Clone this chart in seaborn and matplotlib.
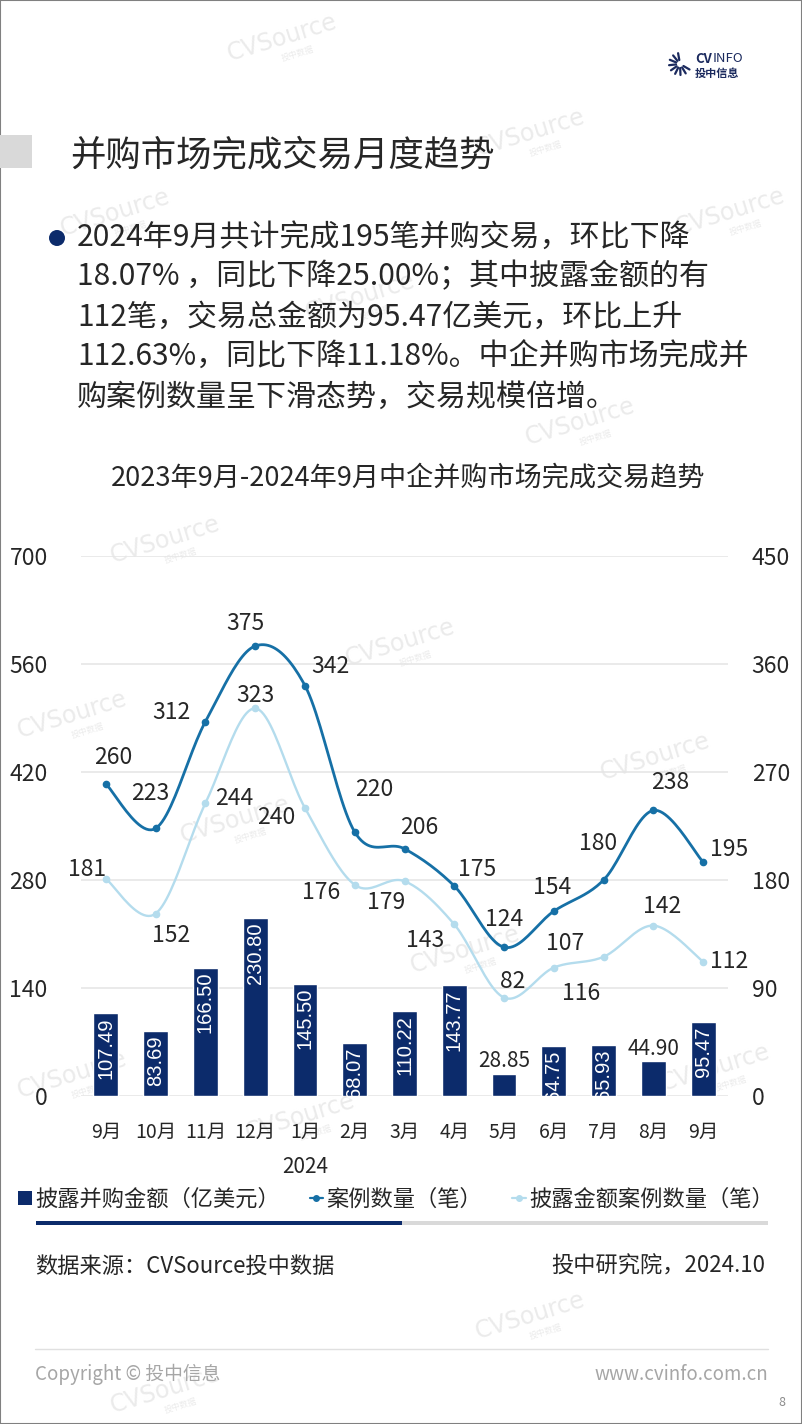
import numpy as np
import pandas as pd
import matplotlib
matplotlib.use("Agg")
import matplotlib.pyplot as plt
from matplotlib.lines import Line2D
from matplotlib.patches import Rectangle, Ellipse, Patch
import seaborn as sns

# Datos del grafico
meses = ['9月', '10月', '11月', '12月', '1月', '2月', '3月', '4月', '5月', '6月', '7月', '8月', '9月']
monto = [107.49, 83.69, 166.50, 230.80, 145.50, 68.07, 110.22, 143.77, 28.85, 64.75, 65.93, 44.90, 95.47]
casos = [260, 223, 312, 375, 342, 220, 206, 175, 124, 154, 180, 238, 195]
casos_monto = [181, 152, 244, 323, 240, 176, 179, 143, 82, 107, 116, 142, 112]
ticks_izq = [0, 140, 280, 420, 560, 700]
ticks_der = [0, 90, 180, 270, 360, 450]

# desplazamientos de las etiquetas (px)
off_casos = [(7, -27), (-5, -35), (-34, -9), (-10, -23), (25, -19), (19, -42), (15, -21),
             (23, -17), (0, -28), (-2, -24), (-6, -36), (17, -28), (26, -13)]
off_monto = [(-19, -9), (15, 22), (29, -5), (0, -13), (-29, 9), (-34, 8), (-18, 21),
             (-29, 16), (9, -16), (11, -24), (-22, 37), (9, -19), (26, 0)]

AZUL_BAR = '#0c2b6b'
AZUL_LIN = '#1670a6'
CELESTE = '#b4dced'
TXT = '#262626'

W, H = 802, 1424


def px(x, y):
    return x / W, 1 - y / H


def suave(xs, ys, n=24):
    # curva tipo Excel (bezier catmull-rom) solo para dibujar la linea
    pts = np.column_stack([xs, ys]).astype(float)
    p = np.vstack([pts[0], pts, pts[-1]])
    t = np.linspace(0, 1, n)[:, None]
    segs = []
    for i in range(1, len(p) - 2):
        p0, p1, p2, p3 = p[i - 1], p[i], p[i + 1], p[i + 2]
        c1 = p1 + (p2 - p0) / 6
        c2 = p2 - (p3 - p1) / 6
        segs.append((1 - t) ** 3 * p1 + 3 * (1 - t) ** 2 * t * c1 + 3 * (1 - t) * t ** 2 * c2 + t ** 3 * p2)
    return np.vstack(segs)


sns.set_theme(style="white")
plt.rcParams['font.family'] = ['Noto Sans CJK SC', 'DejaVu Sans']
plt.rcParams['axes.unicode_minus'] = False

fig = plt.figure(figsize=(W / 100, H / 100), dpi=100)
fig.patch.set_facecolor('white')

# marcas de agua
marcas = [(282, 38), (530, 133), (115, 213), (730, 212), (360, 297), (580, 422), (165, 540),
          (400, 643), (72, 715), (655, 757), (235, 820), (465, 950), (72, 1075),
          (715, 1068), (300, 1117), (530, 1316), (165, 1390)]
for mx, my in marcas:
    fig.text(*px(mx, my), 'CVSource', rotation=17, ha='center', va='center', fontsize=17,
             color='#ebebeb', family='DejaVu Sans', zorder=-5)
    fig.text(*px(mx + 16, my + 16), '投中数据', rotation=17, ha='center', va='center', fontsize=6,
             color='#ebebeb', zorder=-5)

# borde
fig.add_artist(Rectangle((0, 0), 1, 1, transform=fig.transFigure, fill=False,
                         edgecolor='#808080', linewidth=1.5))

# logo
cx, cy = px(680, 64)
for ang in np.linspace(100, 330, 9):
    a = np.deg2rad(ang)
    r1, r2 = 4, 11
    fig.add_artist(Line2D([cx + r1 * np.cos(a) / W, cx + r2 * np.cos(a) / W],
                          [cy + r1 * np.sin(a) / H, cy + r2 * np.sin(a) / H],
                          transform=fig.transFigure, color='#1b2a5e', linewidth=1.6))
fig.text(*px(695, 59), 'CV', fontsize=9.5, fontweight='bold', color='#1b2a5e', va='center')
fig.text(*px(713, 59), 'INFO', fontsize=9.5, color='#1b2a5e', va='center')
fig.text(*px(695, 73), '投中信息', fontsize=8, fontweight='bold', color='#1b2a5e', va='center')

# encabezado
fig.add_artist(Rectangle(px(0, 168), 32 / W, 33 / H, transform=fig.transFigure,
                         facecolor='#d9d9d9', edgecolor='none'))
fig.text(*px(70, 155), '并购市场完成交易月度趋势', fontsize=25.5, color=TXT, va='center')

# texto con viñeta
fig.add_artist(Ellipse(px(57, 238), 16 / W, 16 / H, transform=fig.transFigure,
                       facecolor='#0c2b6b', edgecolor='none'))
lineas = ['2024年9月共计完成195笔并购交易，环比下降',
          '18.07% ，同比下降25.00%；其中披露金额的有',
          '112笔，交易总金额为95.47亿美元，环比上升',
          '112.63%，同比下降11.18%。中企并购市场完成并',
          '购案例数量呈下滑态势，交易规模倍增。']
for k, ln in enumerate(lineas):
    fig.text(*px(77, 237 + 40 * k), ln, fontsize=21.6, color=TXT, va='center')

# titulo del grafico
fig.text(*px(408, 478), '2023年9月-2024年9月中企并购市场完成交易趋势', fontsize=19.5,
         color=TXT, ha='center', va='center')

# grafico
ax = fig.add_axes([81 / W, (H - 1096) / H, (728 - 81) / W, 540 / H])
ax.patch.set_alpha(0)
df = pd.DataFrame({'pos': range(len(meses)), 'monto': monto})
sns.barplot(data=df, x='pos', y='monto', color=AZUL_BAR, saturation=1, width=0.5, ax=ax, zorder=2)
ax.set_xlim(-0.5, len(meses) - 0.5)
ax.set_ylim(0, 700)
ax.set_yticks(ticks_izq)
ax.grid(axis='y', color='#e6e6e6', linewidth=1.2, zorder=0)
ax.set_axisbelow(True)
ax.set_xlabel('')
ax.set_ylabel('')
ax.set_xticks(range(len(meses)))
ax.set_xticklabels(meses, fontsize=14, color=TXT)
ax.tick_params(axis='x', length=0, pad=19)
ax.tick_params(axis='y', length=0, pad=24, labelsize=16.5, labelcolor=TXT)
for s in ax.spines.values():
    s.set_visible(False)
ax.text(4, -0.131, '2024', transform=ax.get_xaxis_transform(), ha='center', va='center',
        fontsize=15, color=TXT)

for i, v in enumerate(monto):
    if v < 50:
        ax.annotate(f'{v:.2f}', (i, v), xytext=(0, 1), textcoords='offset points',
                    ha='center', va='bottom', fontsize=15, color=TXT)
    else:
        t = ax.annotate(f'{v:.2f}', (i, v), xytext=(0, -3), textcoords='offset points',
                        ha='center', va='top', rotation=90, fontsize=14.5, color='white',
                        family='Liberation Sans', zorder=5)
        t.set_clip_on(True)

ax2 = ax.twinx()
ax2.set_ylim(0, 450)
ax2.set_yticks(ticks_der)
ax2.tick_params(axis='y', length=0, pad=17, labelsize=16.5, labelcolor=TXT)
for s in ax2.spines.values():
    s.set_visible(False)
ax2.grid(False)

x = np.arange(len(meses))
for serie, color, lw, offs in [(casos_monto, CELESTE, 1.7, off_monto), (casos, AZUL_LIN, 2.0, off_casos)]:
    curva = suave(x, serie)
    ax2.plot(curva[:, 0], curva[:, 1], color=color, linewidth=lw, zorder=3)
    ax2.plot(x, serie, linestyle='none', marker='o', markersize=4.5, color=color, zorder=4)
    for i, v in enumerate(serie):
        dx, dy = offs[i]
        ax2.annotate(str(v), (i, v), xytext=(dx * 0.72, -dy * 0.72), textcoords='offset points',
                     ha='center', va='center', fontsize=16.5, color=TXT)

# leyenda
handles = [Patch(facecolor=AZUL_BAR, edgecolor='none'),
           Line2D([], [], color=AZUL_LIN, marker='o', markersize=4, linewidth=1.6),
           Line2D([], [], color=CELESTE, marker='o', markersize=4, linewidth=1.6)]
labels = ['披露并购金额（亿美元）', '案例数量（笔）', '披露金额案例数量（笔）']
fig.legend(handles, labels, loc='center', bbox_to_anchor=px(396, 1199), ncol=3, frameon=False,
           fontsize=16, handlelength=0.6, handleheight=0.6, handletextpad=0.15,
           columnspacing=1.35, labelcolor=TXT)

# barra de progreso
fig.add_artist(Rectangle(px(36, 1225), (402 - 36) / W, 4 / H, transform=fig.transFigure,
                         facecolor=AZUL_BAR, edgecolor='none'))
fig.add_artist(Rectangle(px(402, 1225), (768 - 402) / W, 4 / H, transform=fig.transFigure,
                         facecolor='#d9d9d9', edgecolor='none'))

# fuente
fig.text(*px(35, 1266), '数据来源：CVSource投中数据', fontsize=16, color=TXT, va='center')
fig.text(*px(765, 1266), '投中研究院，2024.10', fontsize=16, color=TXT, va='center', ha='right')

# pie de pagina
fig.add_artist(Line2D([35 / W, 768 / W], [1 - 1349 / H, 1 - 1349 / H], transform=fig.transFigure,
                      color='#e0e0e0', linewidth=1))
fig.text(*px(35, 1374), 'Copyright © 投中信息', fontsize=13.5, color='#a6a6a6', va='center')
fig.text(*px(768, 1374), 'www.cvinfo.com.cn', fontsize=13.5, color='#a6a6a6', va='center', ha='right')
fig.text(*px(782, 1402), '8', fontsize=9, color='#8c8c8c', va='center', ha='center')

fig.savefig('out.png', dpi=100)
